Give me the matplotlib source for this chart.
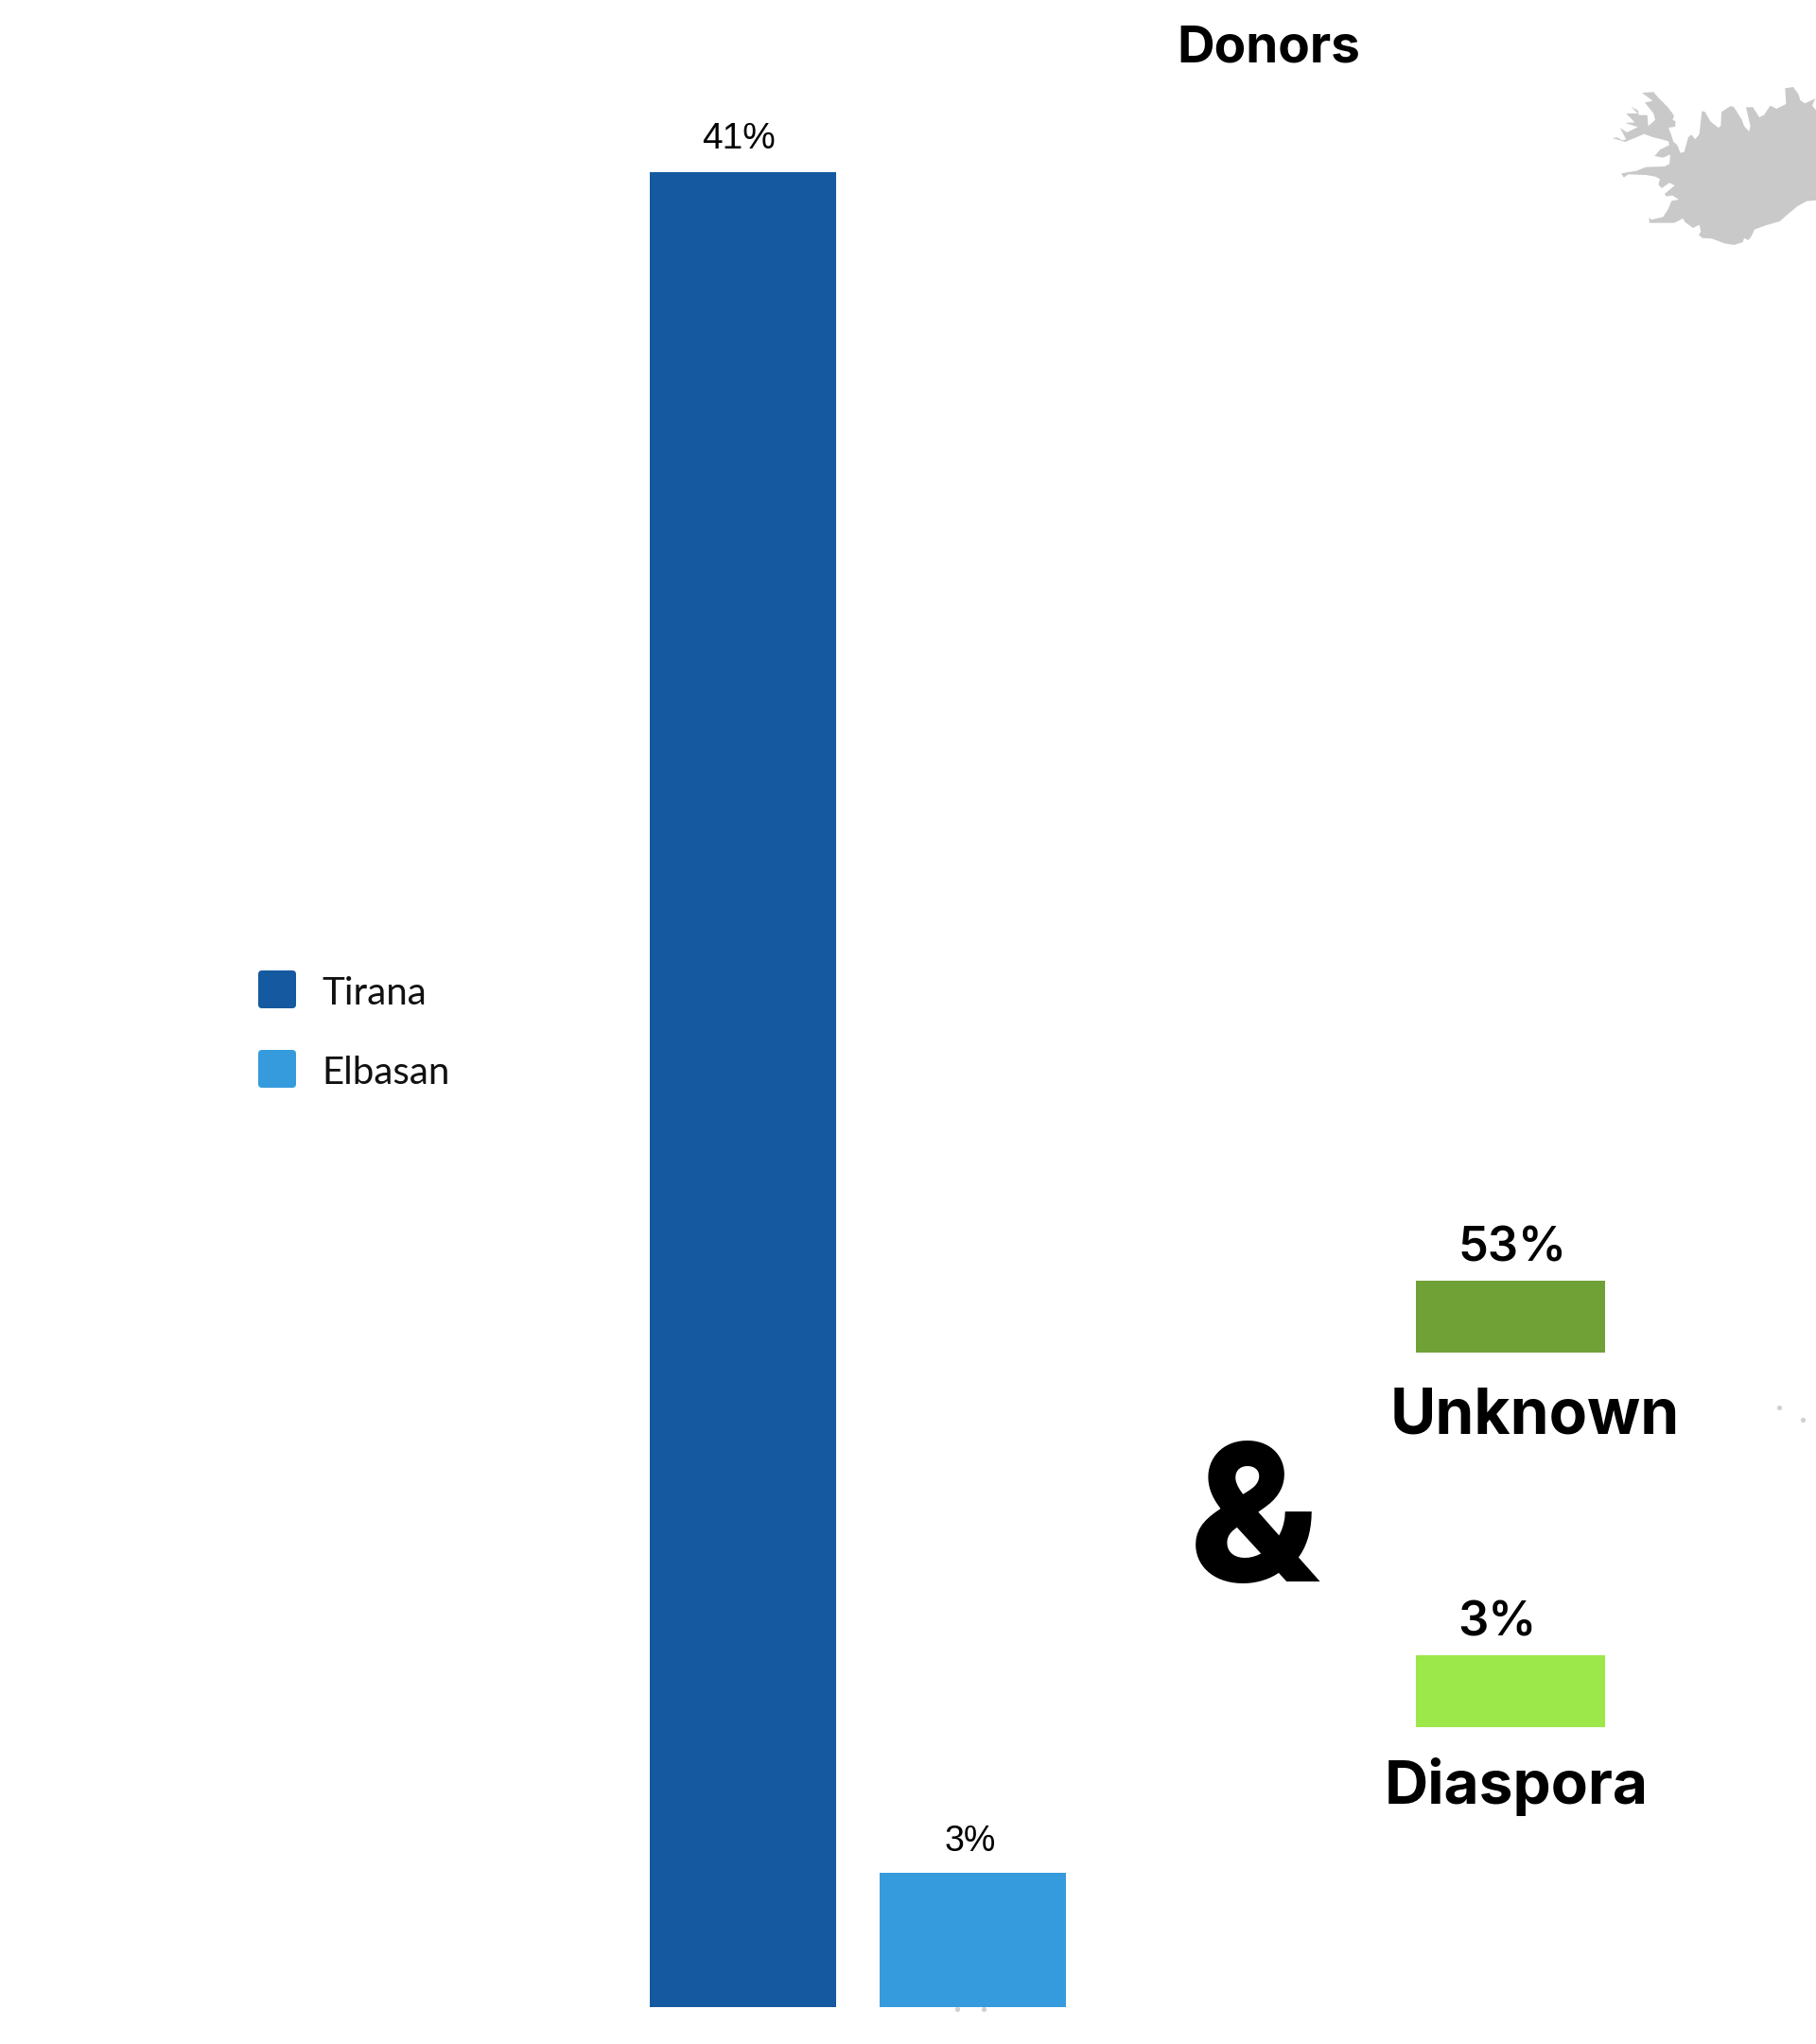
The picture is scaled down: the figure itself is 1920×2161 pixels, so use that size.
import numpy as np
import matplotlib.pyplot as plt
from matplotlib.patches import Rectangle, FancyBboxPatch, Polygon

# Bar chart values
cities = ['Tirana', 'Elbasan']
city_pct = [41, 3]
city_colors = ['#155aa0', '#369bdd']

groups = ['Unknown', 'Diaspora']
group_labels = ['53%', '3%']
group_colors = ['#70a137', '#9ce749']

# Iceland outline
iceland = np.array([
    (228,84),(265,82),(280,100),(310,130),(325,150),(330,158),(325,170),(335,175),(333,192),(312,195),
    (320,215),(328,240),(340,250),(350,275),(362,272),(375,225),(385,217),(397,232),(410,215),(418,142),
    (428,145),(445,175),(470,195),(478,190),(480,145),(510,126),(520,130),(545,170),(552,190),(568,207),
    (572,190),(558,130),(580,130),(600,162),(615,155),(635,125),(655,135),(685,120),(682,70),(708,66),
    (725,90),(730,108),(745,118),(778,102),(768,125),(785,145),(785,425),(750,428),(720,445),(690,470),
    (665,492),(620,505),(585,518),(575,540),(565,552),(552,545),(548,558),(520,567),(490,562),(450,547),
    (420,545),(408,535),(415,525),(410,503),(390,513),(365,495),(358,483),(330,497),(252,497),(250,480),
    (258,487),(295,478),(310,455),(322,427),(345,423),(325,410),(305,413),(300,405),(332,378),(315,370),
    (290,387),(280,375),(285,358),(270,350),(240,345),(185,343),(170,353),(162,340),(210,332),(240,320),
    (300,318),(315,310),(318,280),(295,290),(268,285),(285,265),(315,250),(312,238),(290,232),(262,225),
    (235,215),(175,240),(133,228),(150,226),(165,235),(178,232),(158,195),(180,210),(215,193),(175,180),
    (205,178),(178,150),(215,150),(193,128),(215,140),(218,155),(245,155),(248,190),(270,170),(265,150),
    (237,115),(262,110),
], dtype=float)
speck_x = [1012, 1040, 1881, 1906]
speck_y = [2124, 2124, 1488, 1501]

W, H = 1920, 2161
fig = plt.figure(figsize=(W / 100, H / 100), dpi=100, facecolor='white')

# page axes in pixels, for the decoration around the bars
page = fig.add_axes([0, 0, 1, 1])
page.set_xlim(0, W)
page.set_ylim(H, 0)
page.axis('off')

outline = iceland / 3 + [1660, 70]
page.add_patch(Polygon(outline, closed=True, fc='#c9c9c9', ec='none'))
page.scatter(speck_x, speck_y, s=14, color='#d0d0d0', linewidths=0)

# main bars
ax = fig.add_axes([664 / W, (H - 2122) / H, 486 / W, 1940 / H])
ax.bar([0, 1], city_pct, width=0.8066, color=city_colors)
ax.set_xlim(-0.5, 1.5)
ax.set_ylim(0, 41)
ax.axis('off')
page.text(781, 157, '41%', family='Liberation Sans', fontsize=28, ha='center', va='baseline')
page.text(1026, 1957, '3%', family='Liberation Sans', fontsize=27, ha='center', va='baseline')

# legend
for i, (name, col) in enumerate(zip(cities, city_colors)):
    y0 = 1026 + i * 84
    page.add_patch(FancyBboxPatch((276, y0 + 3), 34, 34, boxstyle='round,pad=3,rounding_size=4', fc=col, ec='none'))
    page.text(340, y0 + 36, name, family='Lato', fontsize=29, ha='left', va='baseline', color='#111111')

# right hand groups
page.text(1341, 65, 'Donors', family='Inter', weight='bold', fontsize=39.5, ha='center', va='baseline')
page.text(1326, 1672, '&', family='Inter', weight='heavy', fontsize=146, ha='center', va='baseline')

box_y = [1354, 1750]
pct_x = [1599, 1583]
pct_base = [1333, 1729]
name_x = [1623, 1603]
name_base = [1515, 1907]
name_size = [47.5, 46]
for i in range(2):
    page.add_patch(Rectangle((1496.5, box_y[i]), 200, 76, fc=group_colors[i], ec='none'))
    page.text(pct_x[i], pct_base[i], group_labels[i], family='Inter', weight='semibold', fontsize=36.5, ha='center', va='baseline')
    page.text(name_x[i], name_base[i], groups[i], family='Inter', weight='bold', fontsize=name_size[i], ha='center', va='baseline')

fig.savefig('out.png', dpi=100)
